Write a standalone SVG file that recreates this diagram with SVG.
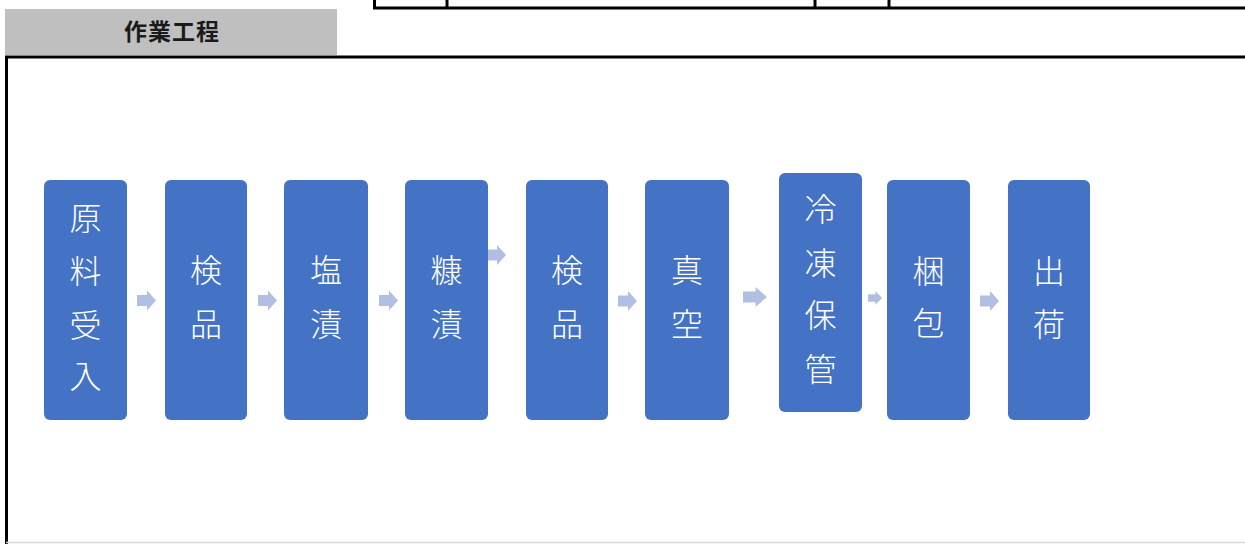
<svg xmlns="http://www.w3.org/2000/svg" width="1245" height="544" viewBox="0 0 1245 544">
<style>
.frame{stroke:#000;stroke-width:3;fill:none}
.box{fill:#4472C4}
.lbl{font-family:"Noto Sans CJK JP","Noto Sans",sans-serif;font-weight:300;font-size:32px;fill:#fff;text-anchor:middle}
.hdr{font-family:"Noto Sans CJK JP","Noto Sans",sans-serif;font-weight:700;font-size:23px;fill:#1a1a1a;text-anchor:middle}
.arr{fill:#B0BFE2}
</style>
<defs>
<path id="a" d="M0,-5.5 H10 V-10 L19,0 L10,10 V5.5 H0 Z"/>
</defs>
<rect width="1245" height="544" fill="#fff"/>
<g id="table-top">
<line class="frame" x1="374.5" y1="0" x2="374.5" y2="9"/>
<line class="frame" x1="447" y1="0" x2="447" y2="9"/>
<line class="frame" x1="815" y1="0" x2="815" y2="9"/>
<line class="frame" x1="889" y1="0" x2="889" y2="9"/>
<line class="frame" x1="373" y1="8" x2="1245" y2="8"/>
</g>
<g id="header">
<rect x="5" y="9" width="332" height="46" fill="#BFBFBF"/>
<text class="hdr" x="172" y="39.5" letter-spacing="1">作業工程</text>
</g>
<g id="frame">
<line class="frame" x1="5" y1="57" x2="1245" y2="57"/>
<line class="frame" x1="6.5" y1="56" x2="6.5" y2="544"/>
<line x1="6" y1="542.5" x2="1245" y2="542.5" stroke="#d9d9d9" stroke-width="1.5"/>
</g>
<g id="connectors">
<use href="#a" class="arr" transform="translate(137,300.5)"/>
<use href="#a" class="arr" transform="translate(258,300.5)"/>
<use href="#a" class="arr" transform="translate(379,300.5)"/>
<use href="#a" class="arr" transform="translate(487,255)"/>
<use href="#a" class="arr" transform="translate(618,301)"/>
<use href="#a" class="arr" transform="translate(743,297) scale(1.26,1)"/>
<use href="#a" class="arr" transform="translate(868,298) scale(0.74,0.68)"/>
<use href="#a" class="arr" transform="translate(980,301)"/>
</g>
<g id="n1"><rect class="box" x="44" y="180" width="83" height="240" rx="6"/>
<text class="lbl" x="85.5" y="230">原</text><text class="lbl" x="85.5" y="283">料</text><text class="lbl" x="85.5" y="337">受</text><text class="lbl" x="85.5" y="388">入</text></g>
<g id="n2"><rect class="box" x="165" y="180" width="82" height="240" rx="6"/>
<text class="lbl" x="206" y="282">検</text><text class="lbl" x="206" y="336">品</text></g>
<g id="n3"><rect class="box" x="284" y="180" width="84" height="240" rx="6"/>
<text class="lbl" x="326" y="282">塩</text><text class="lbl" x="326" y="336">漬</text></g>
<g id="n4"><rect class="box" x="405" y="180" width="83" height="240" rx="6"/>
<text class="lbl" x="446.5" y="282">糠</text><text class="lbl" x="446.5" y="336">漬</text></g>
<g id="n5"><rect class="box" x="526" y="180" width="82" height="240" rx="6"/>
<text class="lbl" x="567" y="282">検</text><text class="lbl" x="567" y="336">品</text></g>
<g id="n6"><rect class="box" x="645" y="180" width="84" height="240" rx="6"/>
<text class="lbl" x="687" y="282">真</text><text class="lbl" x="687" y="336">空</text></g>
<g id="n7"><rect class="box" x="779" y="173" width="83" height="239" rx="6"/>
<text class="lbl" x="820.5" y="221">冷</text><text class="lbl" x="820.5" y="275">凍</text><text class="lbl" x="820.5" y="327">保</text><text class="lbl" x="820.5" y="381">管</text></g>
<g id="n8"><rect class="box" x="887" y="180" width="83" height="240" rx="6"/>
<text class="lbl" x="928.5" y="283">梱</text><text class="lbl" x="928.5" y="335">包</text></g>
<g id="n9"><rect class="box" x="1008" y="180" width="82" height="240" rx="6"/>
<text class="lbl" x="1049" y="283">出</text><text class="lbl" x="1049" y="336">荷</text></g>
</svg>
